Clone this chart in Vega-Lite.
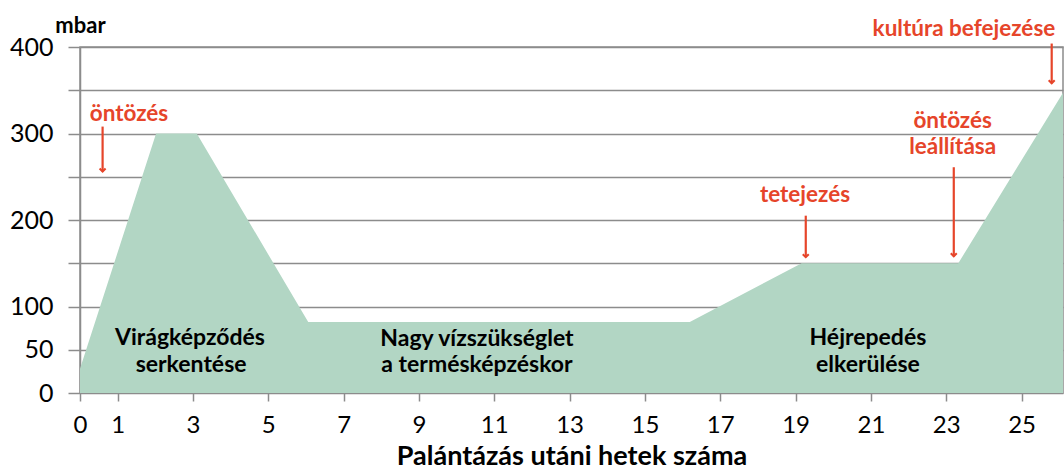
{
  "$schema": "https://vega.github.io/schema/vega-lite/v6.json",
  "autosize": {"type": "none"},
  "width": 983,
  "height": 346,
  "padding": {"left": 80, "top": 47, "right": 1, "bottom": 83},
  "background": "white",
  "config": {
    "view": {"stroke": "#8c8c8c", "strokeWidth": 1.5},
    "font": "Lato"
  },
  "datasets": {
    "profile": [
      {"week": 0, "mbar": 28},
      {"week": 2.02, "mbar": 300},
      {"week": 3.1, "mbar": 300},
      {"week": 6.06, "mbar": 82},
      {"week": 16.19, "mbar": 82},
      {"week": 19.16, "mbar": 150},
      {"week": 23.32, "mbar": 150},
      {"week": 26.1, "mbar": 347}
    ],
    "arrows": [
      {"week": 0.6, "top": 308, "bottom": 256},
      {"week": 19.27, "top": 205, "bottom": 157},
      {"week": 23.2, "top": 261, "bottom": 158},
      {"week": 25.8, "top": 404, "bottom": 358}
    ],
    "notes": [
      {"week": 1.3, "mbar": 323, "label": "öntözés"},
      {"week": 19.25, "mbar": 229, "label": "tetejezés"},
      {"week": 23.17, "mbar": 314, "label": "öntözés"},
      {"week": 23.17, "mbar": 284, "label": "leállítása"},
      {"week": 23.47, "mbar": 421, "label": "kultúra befejezése"}
    ],
    "phases": [
      {"week": 2.92, "mbar": 64, "label": "Virágképződés"},
      {"week": 2.95, "mbar": 32, "label": "serkentése"},
      {"week": 10.54, "mbar": 63, "label": "Nagy vízszükséglet"},
      {"week": 10.54, "mbar": 32, "label": "a termésképzéskor"},
      {"week": 20.92, "mbar": 64, "label": "Héjrepedés"},
      {"week": 20.92, "mbar": 32, "label": "elkerülése"}
    ]
  },
  "encoding": {
    "x": {
      "field": "week", "type": "quantitative",
      "scale": {"domain": [0, 26.1], "nice": false, "zero": false},
      "axis": {
        "title": "Palántázás utáni hetek száma",
        "values": [0, 1, 3, 5, 7, 9, 11, 13, 15, 17, 19, 21, 23, 25],
        "grid": false, "domain": false,
        "tickSize": 8, "tickColor": "#8c8c8c", "tickWidth": 1.5,
        "labelFont": "Lato", "labelFontSize": 24, "labelColor": "#000000",
        "labelPadding": 12, "labelFlush": false,
        "titleFont": "Lato", "titleFontSize": 27, "titleFontWeight": "bold",
        "titleColor": "#000000", "titlePadding": 6
      }
    }
  },
  "layer": [
    {
      "data": {"name": "profile"},
      "mark": {"type": "area", "color": "#b2d6c4", "opacity": 1},
      "encoding": {
        "y": {
          "field": "mbar", "type": "quantitative",
          "scale": {"domain": [0, 400], "nice": false},
          "axis": {
            "title": "mbar",
            "values": [0, 50, 100, 150, 200, 250, 300, 350, 400],
            "labelExpr": "datum.value == 150 || datum.value == 250 || datum.value == 350 ? '' : datum.label",
            "grid": true, "gridColor": "#8c8c8c", "gridWidth": 1.5, "gridOpacity": 1,
            "domain": true, "domainColor": "#8c8c8c", "domainWidth": 1.5,
            "tickSize": 12, "tickColor": "#8c8c8c", "tickWidth": 1.5,
            "labelFont": "Lato", "labelFontSize": 25, "labelColor": "#000000",
            "labelPadding": 15,
            "titleAngle": 0, "titleAlign": "center", "titleBaseline": "middle",
            "titleX": 0, "titleY": -22,
            "titleFont": "Lato", "titleFontSize": 22, "titleFontWeight": "bold",
            "titleColor": "#000000"
          }
        }
      }
    },
    {
      "data": {"name": "arrows"},
      "mark": {"type": "rule", "color": "#e6452a", "strokeWidth": 2.2},
      "encoding": {
        "y": {"field": "top", "type": "quantitative"},
        "y2": {"field": "bottom"}
      }
    },
    {
      "data": {"name": "arrows"},
      "mark": {"type": "point", "shape": "M-1,-1L0,0L1,-1", "filled": false, "color": "#e6452a", "strokeWidth": 2, "size": 36, "opacity": 1},
      "encoding": {
        "y": {"field": "bottom", "type": "quantitative"}
      }
    },
    {
      "data": {"name": "notes"},
      "mark": {"type": "text", "font": "Lato", "fontSize": 22.5, "fontWeight": "bold", "color": "#e6452a", "baseline": "middle", "align": "center"},
      "encoding": {
        "y": {"field": "mbar", "type": "quantitative"},
        "text": {"field": "label"}
      }
    },
    {
      "data": {"name": "phases"},
      "mark": {"type": "text", "font": "Lato", "fontSize": 23, "fontWeight": "bold", "color": "#000000", "baseline": "middle", "align": "center"},
      "encoding": {
        "y": {"field": "mbar", "type": "quantitative"},
        "text": {"field": "label"}
      }
    }
  ]
}
